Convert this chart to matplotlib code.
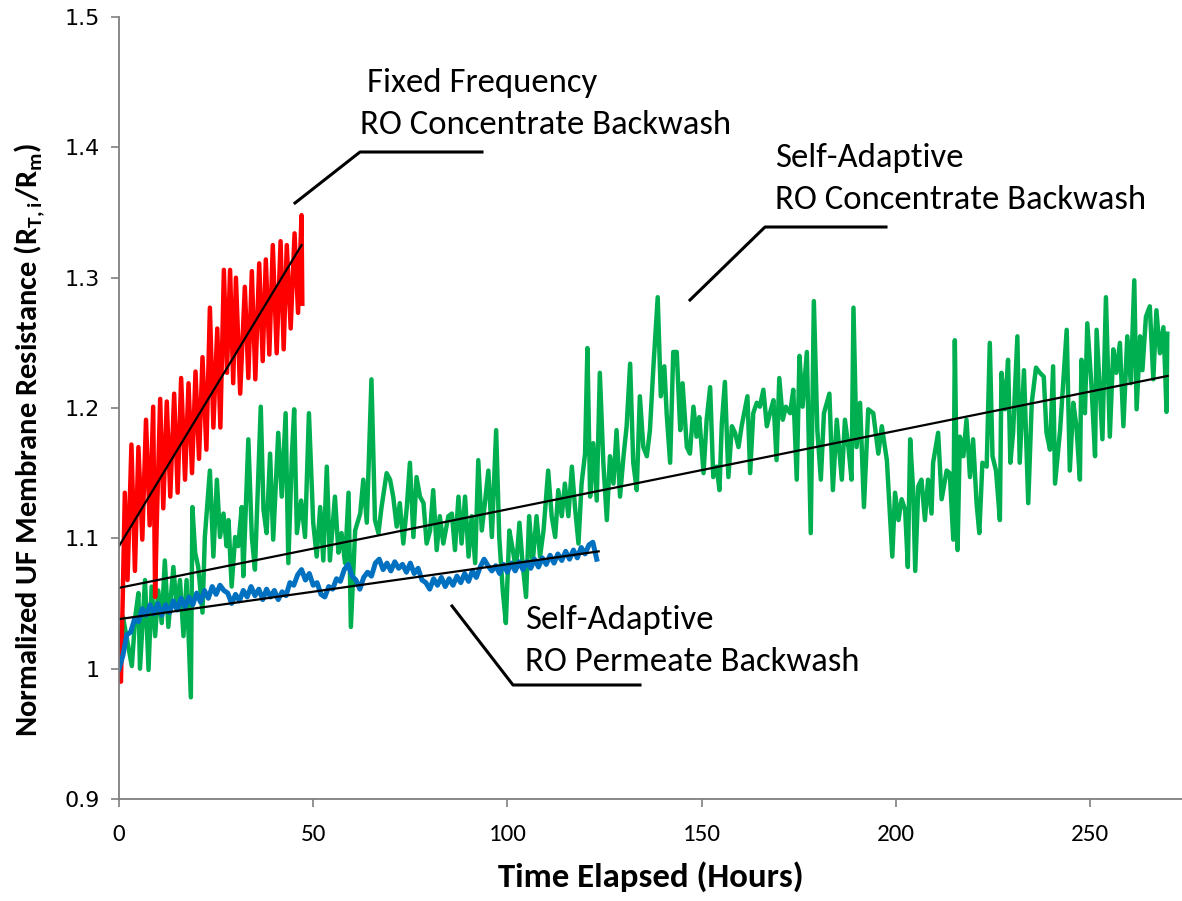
import matplotlib
matplotlib.use("Agg")
import matplotlib.pyplot as plt
from matplotlib.lines import Line2D

# fixed-frequency RO concentrate backwash (red)
red_hours = [0.0, 0.5, 1.0, 1.5, 2.2, 3.2, 4.1, 5.0, 6.0, 6.95, 7.9, 8.8, 9.3, 9.7,
             10.6, 11.4, 12.3, 13.2, 14.2, 15.1, 16.0, 17.0, 17.9, 18.8, 19.7, 20.6,
             21.5, 22.5, 23.4, 24.3, 25.3, 26.1, 27.0, 27.8, 28.6, 29.4, 30.1, 31.2,
             32.4, 33.3, 34.2, 35.1, 36.1, 37.0, 37.8, 38.7, 39.6, 40.6, 41.6, 42.4,
             43.2, 44.2, 45.2, 46.1, 47.0, 47.2]
red_values = [1.000, 0.990, 1.060, 1.135, 1.068, 1.172, 1.075, 1.170, 1.099, 1.191,
              1.110, 1.201, 1.055, 1.109, 1.207, 1.123, 1.205, 1.132, 1.211, 1.135,
              1.223, 1.145, 1.219, 1.150, 1.228, 1.161, 1.239, 1.168, 1.277, 1.185,
              1.261, 1.185, 1.306, 1.227, 1.306, 1.219, 1.300, 1.211, 1.293, 1.223,
              1.305, 1.222, 1.311, 1.236, 1.314, 1.241, 1.325, 1.242, 1.328, 1.245,
              1.325, 1.261, 1.334, 1.273, 1.348, 1.280]

# self-adaptive RO concentrate backwash (green)
green_hours = [0.0, 1.0, 2.4, 3.3, 4.2, 5.0, 5.4, 6.7, 7.6, 8.4, 9.3, 10.1, 11.0, 11.8,
               12.7, 14.0, 14.9, 15.7, 16.6, 17.4, 18.5, 18.9, 19.6, 20.4, 21.5, 22.1,
               23.4, 24.3, 25.2, 26.0, 26.9, 27.7, 28.2, 29.0, 29.9, 30.7, 31.6, 32.0,
               33.3, 34.2, 35.0, 36.5, 37.2, 38.0, 38.9, 39.7, 41.0, 41.9, 42.9, 43.6,
               44.5, 45.1, 45.8, 46.9, 47.9, 48.9, 50.0, 50.9, 51.8, 52.6, 53.5, 54.3,
               55.6, 56.5, 57.3, 58.2, 59.1, 59.7, 60.8, 62.1, 62.9, 63.8, 65.0, 65.9,
               66.8, 67.6, 68.9, 69.8, 70.6, 71.5, 72.3, 73.2, 74.1, 74.9, 75.8, 76.6,
               77.5, 78.4, 79.2, 80.1, 80.9, 81.8, 82.6, 83.5, 84.8, 85.7, 86.5, 87.4,
               88.2, 89.1, 90.0, 90.8, 91.7, 92.5, 93.4, 94.2, 95.1, 96.0, 97.1, 97.9,
               98.8, 99.6, 100.5, 101.4, 102.2, 103.1, 103.9, 104.8, 105.6, 106.5,
               107.5, 108.4, 109.3, 110.5, 111.4, 112.3, 113.1, 114.0, 114.8, 115.7,
               116.6, 117.4, 118.3, 119.1, 120.0, 120.6, 121.3, 122.1, 123.0, 123.8,
               124.7, 125.6, 126.4, 127.3, 128.1, 129.0, 129.9, 130.7, 131.6, 132.4,
               133.3, 134.1, 135.0, 135.9, 136.7, 137.6, 138.7, 139.5, 140.4, 141.0,
               141.9, 142.7, 143.6, 144.5, 145.1, 146.2, 147.0, 147.9, 148.7, 149.4,
               150.5, 151.3, 152.2, 153.0, 153.9, 154.6, 155.2, 156.0, 156.9, 157.8,
               158.6, 159.5, 160.3, 161.8, 162.5, 163.3, 164.2, 165.0, 165.9, 166.8,
               167.6, 168.5, 169.3, 170.0, 170.9, 171.7, 172.8, 173.6, 174.5, 175.2,
               176.0, 177.1, 178.1, 178.9, 179.8, 180.7, 181.5, 182.9, 183.8, 184.8,
               186.1, 186.9, 187.8, 188.6, 189.1, 189.9, 190.8, 191.8, 192.9, 194.2,
               195.5, 196.4, 197.7, 199.1, 199.8, 200.7, 201.5, 202.4, 203.1, 203.7,
               204.5, 205.0, 205.8, 206.6, 207.5, 208.3, 209.2, 209.6, 210.9, 211.8,
               213.1, 213.9, 214.8, 215.2, 215.9, 216.5, 217.4, 218.2, 219.1, 219.9,
               220.8, 221.5, 222.3, 223.4, 224.2, 224.9, 225.8, 226.8, 227.2, 228.1,
               228.9, 229.5, 230.2, 231.3, 231.9, 233.0, 234.1, 235.0, 236.1, 237.1,
               238.1, 238.8, 239.7, 240.5, 241.0, 242.3, 244.0, 244.8, 245.7, 246.5,
               247.4, 247.8, 248.7, 249.3, 250.4, 251.3, 251.7, 252.6, 253.2, 254.1,
               255.1, 256.0, 256.8, 257.7, 258.6, 259.6, 260.5, 261.4, 262.0, 262.9,
               263.5, 264.4, 265.4, 266.3, 267.1, 268.0, 268.9, 269.3, 269.7, 269.9]
green_values = [1.005, 1.040, 1.017, 1.002, 1.040, 1.058, 1.000, 1.068, 0.999, 1.063,
                1.025, 1.060, 1.035, 1.083, 1.032, 1.078, 1.045, 1.068, 1.025, 1.068,
                0.978, 1.124, 1.089, 1.078, 1.043, 1.101, 1.152, 1.086, 1.145, 1.101,
                1.119, 1.094, 1.114, 1.063, 1.101, 1.094, 1.124, 1.071, 1.176, 1.101,
                1.076, 1.201, 1.122, 1.104, 1.165, 1.099, 1.181, 1.132, 1.196, 1.081,
                1.163, 1.199, 1.104, 1.129, 1.101, 1.196, 1.112, 1.086, 1.124, 1.083,
                1.155, 1.083, 1.132, 1.089, 1.104, 1.081, 1.135, 1.032, 1.106, 1.119,
                1.145, 1.112, 1.222, 1.114, 1.104, 1.124, 1.150, 1.145, 1.132, 1.109,
                1.127, 1.096, 1.124, 1.158, 1.101, 1.147, 1.132, 1.127, 1.096, 1.106,
                1.137, 1.091, 1.117, 1.096, 1.117, 1.119, 1.091, 1.132, 1.096, 1.132,
                1.086, 1.117, 1.081, 1.160, 1.106, 1.127, 1.152, 1.101, 1.183, 1.101,
                1.060, 1.035, 1.106, 1.091, 1.076, 1.112, 1.081, 1.055, 1.117, 1.081,
                1.117, 1.086, 1.106, 1.152, 1.117, 1.101, 1.137, 1.117, 1.142, 1.117,
                1.155, 1.124, 1.096, 1.142, 1.165, 1.246, 1.132, 1.173, 1.129, 1.227,
                1.158, 1.114, 1.163, 1.142, 1.183, 1.132, 1.163, 1.186, 1.234, 1.158,
                1.137, 1.209, 1.170, 1.163, 1.183, 1.232, 1.285, 1.209, 1.232, 1.196,
                1.158, 1.243, 1.243, 1.183, 1.219, 1.170, 1.165, 1.201, 1.178, 1.193,
                1.150, 1.191, 1.216, 1.147, 1.155, 1.137, 1.188, 1.220, 1.147, 1.186,
                1.181, 1.170, 1.186, 1.209, 1.150, 1.196, 1.204, 1.201, 1.214, 1.186,
                1.196, 1.206, 1.160, 1.223, 1.191, 1.201, 1.196, 1.214, 1.145, 1.240,
                1.201, 1.243, 1.104, 1.282, 1.183, 1.145, 1.196, 1.211, 1.137, 1.191,
                1.145, 1.191, 1.170, 1.145, 1.277, 1.170, 1.204, 1.124, 1.199, 1.196,
                1.165, 1.186, 1.160, 1.086, 1.135, 1.114, 1.130, 1.122, 1.078, 1.176,
                1.135, 1.075, 1.140, 1.145, 1.114, 1.145, 1.119, 1.158, 1.181, 1.130,
                1.152, 1.150, 1.099, 1.252, 1.091, 1.178, 1.163, 1.191, 1.147, 1.176,
                1.127, 1.104, 1.158, 1.155, 1.250, 1.163, 1.152, 1.114, 1.227, 1.199,
                1.237, 1.158, 1.181, 1.255, 1.158, 1.229, 1.127, 1.204, 1.231, 1.227,
                1.224, 1.181, 1.168, 1.232, 1.142, 1.183, 1.260, 1.152, 1.204, 1.186,
                1.145, 1.237, 1.196, 1.265, 1.216, 1.163, 1.260, 1.209, 1.176, 1.285,
                1.178, 1.245, 1.227, 1.250, 1.186, 1.255, 1.219, 1.298, 1.199, 1.255,
                1.229, 1.270, 1.278, 1.222, 1.275, 1.242, 1.262, 1.232, 1.197, 1.257]

# self-adaptive RO permeate backwash (blue), hourly readings
blue_values = [1.000, 1.010, 1.026, 1.028, 1.038, 1.036, 1.046, 1.041, 1.049, 1.042,
               1.050, 1.041, 1.049, 1.043, 1.052, 1.045, 1.054, 1.047, 1.055, 1.049,
               1.058, 1.051, 1.060, 1.054, 1.063, 1.057, 1.064, 1.060, 1.058, 1.050,
               1.057, 1.052, 1.060, 1.055, 1.063, 1.056, 1.061, 1.053, 1.061, 1.055,
               1.060, 1.053, 1.059, 1.056, 1.066, 1.064, 1.072, 1.076, 1.068, 1.073,
               1.064, 1.066, 1.057, 1.055, 1.063, 1.061, 1.069, 1.067, 1.076, 1.080,
               1.071, 1.068, 1.061, 1.070, 1.074, 1.071, 1.081, 1.084, 1.076, 1.081,
               1.075, 1.082, 1.077, 1.080, 1.074, 1.081, 1.073, 1.077, 1.068, 1.066,
               1.061, 1.069, 1.064, 1.070, 1.063, 1.069, 1.064, 1.071, 1.066, 1.073,
               1.067, 1.075, 1.070, 1.078, 1.084, 1.079, 1.075, 1.079, 1.073, 1.080,
               1.074, 1.081, 1.075, 1.082, 1.076, 1.082, 1.077, 1.084, 1.078, 1.085,
               1.080, 1.087, 1.081, 1.088, 1.083, 1.090, 1.084, 1.091, 1.085, 1.093,
               1.088, 1.095, 1.097, 1.084]
blue_hours = list(range(len(blue_values)))

# linear trend lines (start hour, end hour), (start value, end value)
red_trend_x, red_trend_y = [0.0, 47.0], [1.094, 1.325]
green_trend_x, green_trend_y = [0.0, 270.0], [1.062, 1.2246]
blue_trend_x, blue_trend_y = [0.0, 123.5], [1.038, 1.090]

y_ticks = [0.9, 1.0, 1.1, 1.2, 1.3, 1.4, 1.5]
y_tick_labels = ["0.9", "1", "1.1", "1.2", "1.3", "1.4", "1.5"]
x_ticks = [0, 50, 100, 150, 200, 250]

W, H = 1182, 901
narrow = ["Carlito", "Lato", "DejaVu Sans"]


def px(x, y):
    return x / W, 1 - y / H


fig = plt.figure(figsize=(W / 100, H / 100), dpi=100)
ax = fig.add_axes([119 / W, 102 / H, (W - 119) / W, 782 / H])

ax.plot(green_hours, green_values, color="#00B050", lw=3.2, solid_joinstyle="round")
ax.plot(red_hours, red_values, color="#FF0000", lw=3.2, solid_joinstyle="round")
ax.plot(blue_hours, blue_values, color="#0070C0", lw=3.6, solid_joinstyle="round")
for tx, ty in [(red_trend_x, red_trend_y), (green_trend_x, green_trend_y),
               (blue_trend_x, blue_trend_y)]:
    ax.plot(tx, ty, color="black", lw=1.6)

ax.set_xlim(0, (W - 119) / 3.884)
ax.set_ylim(0.9, 1.5)
ax.set_yticks(y_ticks)
ax.set_yticklabels(y_tick_labels, fontsize=16, family="DejaVu Sans")
ax.set_xticks(x_ticks)
ax.set_xticklabels([str(v) for v in x_ticks], fontsize=18, family=narrow)
ax.tick_params(direction="out", length=6, width=1.2, color="#7f7f7f", pad=8)
ax.tick_params(axis="x", pad=12)
for side in ["top", "right"]:
    ax.spines[side].set_visible(False)
for side in ["left", "bottom"]:
    ax.spines[side].set_color("#7f7f7f")
    ax.spines[side].set_linewidth(1.3)

ax.set_xlabel("Time Elapsed (Hours)", fontsize=25, fontweight="bold", family=narrow)
ax.xaxis.set_label_coords(0.5, -0.08)
ax.set_ylabel(r"Normalized UF Membrane Resistance (R$_{\mathregular{T,i}}$/R$_{\mathregular{m}}$)",
              fontsize=22, fontweight="bold", family=narrow)
ax.yaxis.set_label_coords(-0.068, 0.46)

# callout labels with leader lines
callouts = [
    ([(295, 203), (360, 152), (482, 152)], (367, 83), "Fixed Frequency", (360, 125), "RO Concentrate Backwash"),
    ([(690, 300), (765, 227), (886, 227)], (775, 158), "Self-Adaptive", (775, 200), "RO Concentrate Backwash"),
    ([(452, 606), (513, 685), (640, 685)], (525, 620), "Self-Adaptive", (525, 662), "RO Permeate Backwash"),
]
for pts, p1, t1, p2, t2 in callouts:
    xs = [px(*p)[0] for p in pts]
    ys = [px(*p)[1] for p in pts]
    fig.add_artist(Line2D(xs, ys, color="black", lw=2.2, transform=fig.transFigure))
    fig.text(*px(*p1), t1, fontsize=25, family=narrow, va="center", ha="left")
    fig.text(*px(*p2), t2, fontsize=25, family=narrow, va="center", ha="left")

fig.savefig("out.png", dpi=100)
